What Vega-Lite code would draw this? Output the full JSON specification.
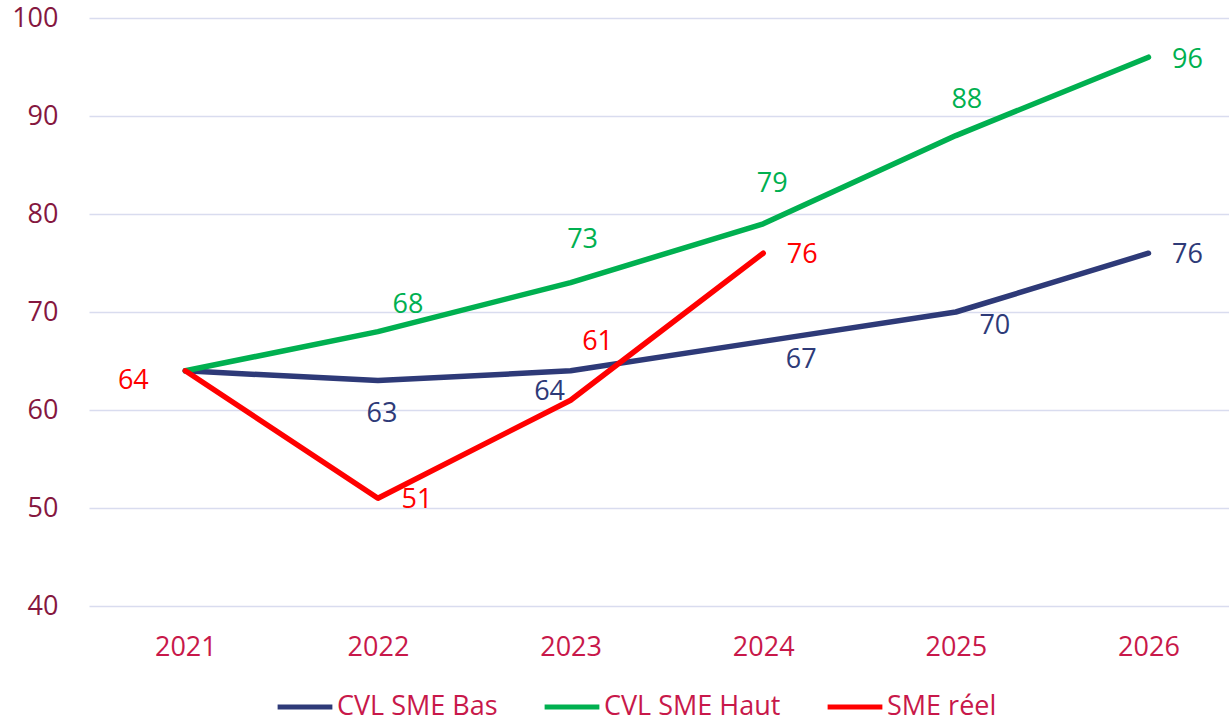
{
  "$schema": "https://vega.github.io/schema/vega-lite/v6.json",
  "autosize": {"type": "none"},
  "width": 1140,
  "height": 588,
  "padding": {"left": 89, "top": 18, "right": 0, "bottom": 118},
  "background": "white",
  "config": {
    "view": {"stroke": null},
    "font": "Open Sans",
    "axis": {"labelFont": "Open Sans", "labelFontSize": 27, "domain": false, "ticks": false, "title": null},
    "legend": {
      "orient": "none", "legendX": 186, "legendY": 659, "direction": "horizontal",
      "symbolType": "stroke", "symbolSize": 3000, "symbolStrokeWidth": 5,
      "labelFont": "Open Sans", "labelFontSize": 27, "labelColor": "#c8184a", "labelLimit": 400,
      "columnPadding": 36, "labelOffset": 2, "padding": 0, "title": null
    }
  },
  "data": {"values": [
    {"series": "CVL SME Bas", "year": 2021, "value": 64},
    {"series": "CVL SME Bas", "year": 2022, "value": 63},
    {"series": "CVL SME Bas", "year": 2023, "value": 64},
    {"series": "CVL SME Bas", "year": 2024, "value": 67},
    {"series": "CVL SME Bas", "year": 2025, "value": 70},
    {"series": "CVL SME Bas", "year": 2026, "value": 76},
    {"series": "CVL SME Haut", "year": 2021, "value": 64},
    {"series": "CVL SME Haut", "year": 2022, "value": 68},
    {"series": "CVL SME Haut", "year": 2023, "value": 73},
    {"series": "CVL SME Haut", "year": 2024, "value": 79},
    {"series": "CVL SME Haut", "year": 2025, "value": 88},
    {"series": "CVL SME Haut", "year": 2026, "value": 96},
    {"series": "SME réel", "year": 2021, "value": 64},
    {"series": "SME réel", "year": 2022, "value": 51},
    {"series": "SME réel", "year": 2023, "value": 61},
    {"series": "SME réel", "year": 2024, "value": 76}
  ]},
  "encoding": {
    "x": {"field": "year", "type": "quantitative",
      "scale": {"domain": [2020.5, 2026.418], "nice": false, "zero": false},
      "axis": {"values": [2021, 2022, 2023, 2024, 2025, 2026], "format": "d", "grid": false, "labelColor": "#c8184a", "labelPadding": 28}},
    "y": {"field": "value", "type": "quantitative",
      "scale": {"domain": [40, 100], "nice": false, "zero": false},
      "axis": {"values": [40, 50, 60, 70, 80, 90, 100], "grid": true, "gridColor": "#d9dcef", "gridWidth": 1.6, "labelColor": "#85173f", "labelPadding": 31}},
    "color": {"field": "series", "type": "nominal", "legend": null,
      "scale": {"domain": ["CVL SME Bas", "CVL SME Haut", "SME réel"], "range": ["#2e3a78", "#00b050", "#ff0000"]}}
  },
  "resolve": {"legend": {"color": "independent"}},
  "layer": [
    {"mark": {"type": "line", "strokeWidth": 5.5, "strokeCap": "round", "strokeJoin": "round"},
     "encoding": {"color": {"field": "series", "type": "nominal", "legend": {}}}},
    {"transform": [{"filter": "(datum.series==='CVL SME Bas' && datum.year===2026) || (datum.series==='SME réel' && (datum.year===2022 || datum.year===2024))"}],
     "mark": {"type": "text", "fontSize": 27, "dx": 39, "dy": 2}, "encoding": {"text": {"field": "value"}}},
    {"transform": [{"filter": "datum.series==='CVL SME Haut' && datum.year===2026"}],
     "mark": {"type": "text", "fontSize": 27, "dx": 39, "dy": 3}, "encoding": {"text": {"field": "value"}}},
    {"transform": [{"filter": "datum.series==='CVL SME Bas' && datum.year===2022"}],
     "mark": {"type": "text", "fontSize": 27, "dx": 4, "dy": 33}, "encoding": {"text": {"field": "value"}}},
    {"transform": [{"filter": "datum.series==='CVL SME Bas' && datum.year===2023"}],
     "mark": {"type": "text", "fontSize": 27, "dx": -21, "dy": 21}, "encoding": {"text": {"field": "value"}}},
    {"transform": [{"filter": "datum.series==='CVL SME Bas' && datum.year===2024"}],
     "mark": {"type": "text", "fontSize": 27, "dx": 38, "dy": 19}, "encoding": {"text": {"field": "value"}}},
    {"transform": [{"filter": "datum.series==='CVL SME Bas' && datum.year===2025"}],
     "mark": {"type": "text", "fontSize": 27, "dx": 39, "dy": 14}, "encoding": {"text": {"field": "value"}}},
    {"transform": [{"filter": "datum.series==='CVL SME Haut' && datum.year===2022"}],
     "mark": {"type": "text", "fontSize": 27, "dx": 30, "dy": -27}, "encoding": {"text": {"field": "value"}}},
    {"transform": [{"filter": "datum.series==='CVL SME Haut' && datum.year===2023"}],
     "mark": {"type": "text", "fontSize": 27, "dx": 12, "dy": -43}, "encoding": {"text": {"field": "value"}}},
    {"transform": [{"filter": "datum.series==='CVL SME Haut' && datum.year===2024"}],
     "mark": {"type": "text", "fontSize": 27, "dx": 9, "dy": -40}, "encoding": {"text": {"field": "value"}}},
    {"transform": [{"filter": "datum.series==='CVL SME Haut' && datum.year===2025"}],
     "mark": {"type": "text", "fontSize": 27, "dx": 11, "dy": -36}, "encoding": {"text": {"field": "value"}}},
    {"transform": [{"filter": "datum.series==='SME réel' && datum.year===2021"}],
     "mark": {"type": "text", "fontSize": 27, "dx": -52, "dy": 10}, "encoding": {"text": {"field": "value"}}},
    {"transform": [{"filter": "datum.series==='SME réel' && datum.year===2023"}],
     "mark": {"type": "text", "fontSize": 27, "dx": 27, "dy": -58}, "encoding": {"text": {"field": "value"}}}
  ]
}
